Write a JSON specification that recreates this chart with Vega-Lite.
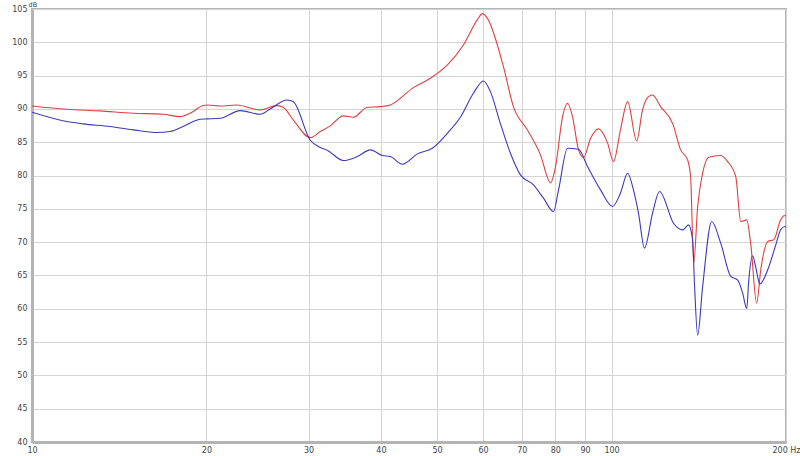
{
  "$schema": "https://vega.github.io/schema/vega-lite/v6.json",
  "width": 754,
  "height": 433,
  "autosize": "none",
  "padding": {"left": 32, "top": 9, "right": 14, "bottom": 14},
  "background": "white",
  "config": {
    "view": {"stroke": "#b4b4b4", "strokeWidth": 2},
    "axis": {"labelFont": "DejaVu Sans", "labelFontSize": 8, "labelColor": "#444", "gridColor": "#d4d4d4", "gridWidth": 1, "ticks": false, "domainColor": "#b4b4b4"}
  },
  "datasets": {
    "s": [
      {"f": 10.0, "db": 90.45, "s": "red"},
      {"f": 11.49, "db": 89.95, "s": "red"},
      {"f": 13.1, "db": 89.7, "s": "red"},
      {"f": 14.94, "db": 89.35, "s": "red"},
      {"f": 16.84, "db": 89.2, "s": "red"},
      {"f": 18.01, "db": 88.85, "s": "red"},
      {"f": 18.74, "db": 89.35, "s": "red"},
      {"f": 19.74, "db": 90.5, "s": "red"},
      {"f": 20.06, "db": 90.6, "s": "red"},
      {"f": 21.12, "db": 90.45, "s": "red"},
      {"f": 22.57, "db": 90.6, "s": "red"},
      {"f": 24.76, "db": 89.85, "s": "red"},
      {"f": 26.46, "db": 90.5, "s": "red"},
      {"f": 27.13, "db": 90.25, "s": "red"},
      {"f": 28.23, "db": 88.35, "s": "red"},
      {"f": 30.21, "db": 85.7, "s": "red"},
      {"f": 31.44, "db": 86.6, "s": "red"},
      {"f": 32.71, "db": 87.45, "s": "red"},
      {"f": 34.45, "db": 88.95, "s": "red"},
      {"f": 35.84, "db": 88.75, "s": "red"},
      {"f": 37.9, "db": 90.25, "s": "red"},
      {"f": 39.91, "db": 90.35, "s": "red"},
      {"f": 41.53, "db": 90.6, "s": "red"},
      {"f": 45.5, "db": 93.2, "s": "red"},
      {"f": 48.69, "db": 94.6, "s": "red"},
      {"f": 52.1, "db": 96.6, "s": "red"},
      {"f": 55.51, "db": 99.6, "s": "red"},
      {"f": 58.69, "db": 103.4, "s": "red"},
      {"f": 59.87, "db": 104.3, "s": "red"},
      {"f": 61.07, "db": 103.6, "s": "red"},
      {"f": 65.08, "db": 96.35, "s": "red"},
      {"f": 67.71, "db": 90.35, "s": "red"},
      {"f": 71.59, "db": 86.85, "s": "red"},
      {"f": 75.4, "db": 83.1, "s": "red"},
      {"f": 78.46, "db": 78.9, "s": "red"},
      {"f": 80.05, "db": 81.35, "s": "red"},
      {"f": 82.32, "db": 88.85, "s": "red"},
      {"f": 83.95, "db": 90.85, "s": "red"},
      {"f": 85.63, "db": 88.85, "s": "red"},
      {"f": 87.7, "db": 83.85, "s": "red"},
      {"f": 89.46, "db": 82.7, "s": "red"},
      {"f": 91.99, "db": 85.55, "s": "red"},
      {"f": 94.97, "db": 87.0, "s": "red"},
      {"f": 98.42, "db": 84.9, "s": "red"},
      {"f": 100.8, "db": 82.1, "s": "red"},
      {"f": 103.6, "db": 86.85, "s": "red"},
      {"f": 106.6, "db": 91.1, "s": "red"},
      {"f": 110.5, "db": 85.2, "s": "red"},
      {"f": 113.1, "db": 89.85, "s": "red"},
      {"f": 115.8, "db": 91.85, "s": "red"},
      {"f": 117.7, "db": 92.1, "s": "red"},
      {"f": 121.5, "db": 90.35, "s": "red"},
      {"f": 127.5, "db": 87.8, "s": "red"},
      {"f": 131.6, "db": 83.85, "s": "red"},
      {"f": 135.3, "db": 82.35, "s": "red"},
      {"f": 136.9, "db": 79.85, "s": "red"},
      {"f": 138.6, "db": 66.85, "s": "red"},
      {"f": 140.8, "db": 75.35, "s": "red"},
      {"f": 143.6, "db": 80.35, "s": "red"},
      {"f": 147.1, "db": 82.75, "s": "red"},
      {"f": 154.3, "db": 83.0, "s": "red"},
      {"f": 158.6, "db": 82.1, "s": "red"},
      {"f": 163.8, "db": 79.85, "s": "red"},
      {"f": 167.1, "db": 73.1, "s": "red"},
      {"f": 171.1, "db": 73.35, "s": "red"},
      {"f": 173.8, "db": 69.85, "s": "red"},
      {"f": 178.0, "db": 60.85, "s": "red"},
      {"f": 180.9, "db": 65.85, "s": "red"},
      {"f": 186.0, "db": 70.1, "s": "red"},
      {"f": 190.5, "db": 70.35, "s": "red"},
      {"f": 195.8, "db": 73.35, "s": "red"},
      {"f": 198.2, "db": 73.95, "s": "red"},
      {"f": 200.0, "db": 74.0, "s": "red"},
      {"f": 10.0, "db": 89.5, "s": "blue"},
      {"f": 11.49, "db": 88.1, "s": "blue"},
      {"f": 12.25, "db": 87.75, "s": "blue"},
      {"f": 13.64, "db": 87.35, "s": "blue"},
      {"f": 14.94, "db": 86.85, "s": "blue"},
      {"f": 16.44, "db": 86.45, "s": "blue"},
      {"f": 17.31, "db": 86.6, "s": "blue"},
      {"f": 18.23, "db": 87.35, "s": "blue"},
      {"f": 19.51, "db": 88.45, "s": "blue"},
      {"f": 20.06, "db": 88.5, "s": "blue"},
      {"f": 21.12, "db": 88.6, "s": "blue"},
      {"f": 22.87, "db": 89.75, "s": "blue"},
      {"f": 24.76, "db": 89.2, "s": "blue"},
      {"f": 25.77, "db": 90.0, "s": "blue"},
      {"f": 27.57, "db": 91.35, "s": "blue"},
      {"f": 28.23, "db": 91.1, "s": "blue"},
      {"f": 30.21, "db": 85.3, "s": "blue"},
      {"f": 31.44, "db": 84.2, "s": "blue"},
      {"f": 32.32, "db": 83.8, "s": "blue"},
      {"f": 34.45, "db": 82.25, "s": "blue"},
      {"f": 36.42, "db": 82.85, "s": "blue"},
      {"f": 38.36, "db": 83.85, "s": "blue"},
      {"f": 40.23, "db": 83.0, "s": "blue"},
      {"f": 41.53, "db": 82.85, "s": "blue"},
      {"f": 43.55, "db": 81.7, "s": "blue"},
      {"f": 46.23, "db": 83.25, "s": "blue"},
      {"f": 49.07, "db": 84.1, "s": "blue"},
      {"f": 52.1, "db": 86.35, "s": "blue"},
      {"f": 54.85, "db": 88.75, "s": "blue"},
      {"f": 57.76, "db": 92.35, "s": "blue"},
      {"f": 60.11, "db": 94.2, "s": "blue"},
      {"f": 61.8, "db": 92.6, "s": "blue"},
      {"f": 64.3, "db": 87.8, "s": "blue"},
      {"f": 66.92, "db": 83.35, "s": "blue"},
      {"f": 69.63, "db": 80.1, "s": "blue"},
      {"f": 73.33, "db": 78.6, "s": "blue"},
      {"f": 76.31, "db": 76.6, "s": "blue"},
      {"f": 79.41, "db": 74.6, "s": "blue"},
      {"f": 81.02, "db": 77.85, "s": "blue"},
      {"f": 83.95, "db": 84.1, "s": "blue"},
      {"f": 87.7, "db": 83.95, "s": "blue"},
      {"f": 90.9, "db": 81.35, "s": "blue"},
      {"f": 95.72, "db": 77.85, "s": "blue"},
      {"f": 100.4, "db": 75.35, "s": "blue"},
      {"f": 103.6, "db": 77.35, "s": "blue"},
      {"f": 106.6, "db": 80.35, "s": "blue"},
      {"f": 109.1, "db": 77.85, "s": "blue"},
      {"f": 111.3, "db": 74.35, "s": "blue"},
      {"f": 114.0, "db": 69.1, "s": "blue"},
      {"f": 117.7, "db": 74.35, "s": "blue"},
      {"f": 121.0, "db": 77.6, "s": "blue"},
      {"f": 128.0, "db": 72.8, "s": "blue"},
      {"f": 132.7, "db": 71.85, "s": "blue"},
      {"f": 135.8, "db": 72.6, "s": "blue"},
      {"f": 138.0, "db": 70.35, "s": "blue"},
      {"f": 139.1, "db": 63.3, "s": "blue"},
      {"f": 140.8, "db": 56.05, "s": "blue"},
      {"f": 143.6, "db": 63.3, "s": "blue"},
      {"f": 148.9, "db": 73.1, "s": "blue"},
      {"f": 154.3, "db": 69.85, "s": "blue"},
      {"f": 160.6, "db": 64.85, "s": "blue"},
      {"f": 165.1, "db": 64.3, "s": "blue"},
      {"f": 168.4, "db": 62.3, "s": "blue"},
      {"f": 171.1, "db": 60.05, "s": "blue"},
      {"f": 172.5, "db": 64.3, "s": "blue"},
      {"f": 175.2, "db": 67.95, "s": "blue"},
      {"f": 177.3, "db": 66.3, "s": "blue"},
      {"f": 180.2, "db": 63.7, "s": "blue"},
      {"f": 186.0, "db": 65.85, "s": "blue"},
      {"f": 192.0, "db": 69.55, "s": "blue"},
      {"f": 195.8, "db": 71.85, "s": "blue"},
      {"f": 199.0, "db": 72.35, "s": "blue"},
      {"f": 200.0, "db": 72.2, "s": "blue"}
    ]
  },
  "data": {"name": "s"},
  "mark": {"type": "line", "strokeWidth": 1.1, "interpolate": "monotone", "clip": true},
  "encoding": {
    "x": {
      "field": "f", "type": "quantitative",
      "scale": {"type": "log", "domain": [10, 200], "nice": false},
      "axis": {"title": null, "values": [10, 20, 30, 40, 50, 60, 70, 80, 90, 100, 200], "labelExpr": "datum.value == 200 ? '200 Hz' : datum.label", "format": "d", "labelPadding": 4, "domainWidth": 3, "labelFlush": false}
    },
    "y": {
      "field": "db", "type": "quantitative",
      "scale": {"domain": [40, 105], "nice": false, "zero": false},
      "axis": {"values": [40, 45, 50, 55, 60, 65, 70, 75, 80, 85, 90, 95, 100, 105], "title": "dB", "titleAngle": 0, "titleX": -4, "titleY": -3, "titleAlign": "left", "titleBaseline": "alphabetic", "titleFont": "DejaVu Sans", "titleFontSize": 6.5, "titleFontWeight": "normal", "titleColor": "#444", "labelPadding": 5, "domainWidth": 3}
    },
    "color": {
      "field": "s", "type": "nominal",
      "scale": {"domain": ["red", "blue"], "range": ["#e0403f", "#3a3ac0"]},
      "legend": null
    },
    "order": {"field": "f", "type": "quantitative"}
  }
}
